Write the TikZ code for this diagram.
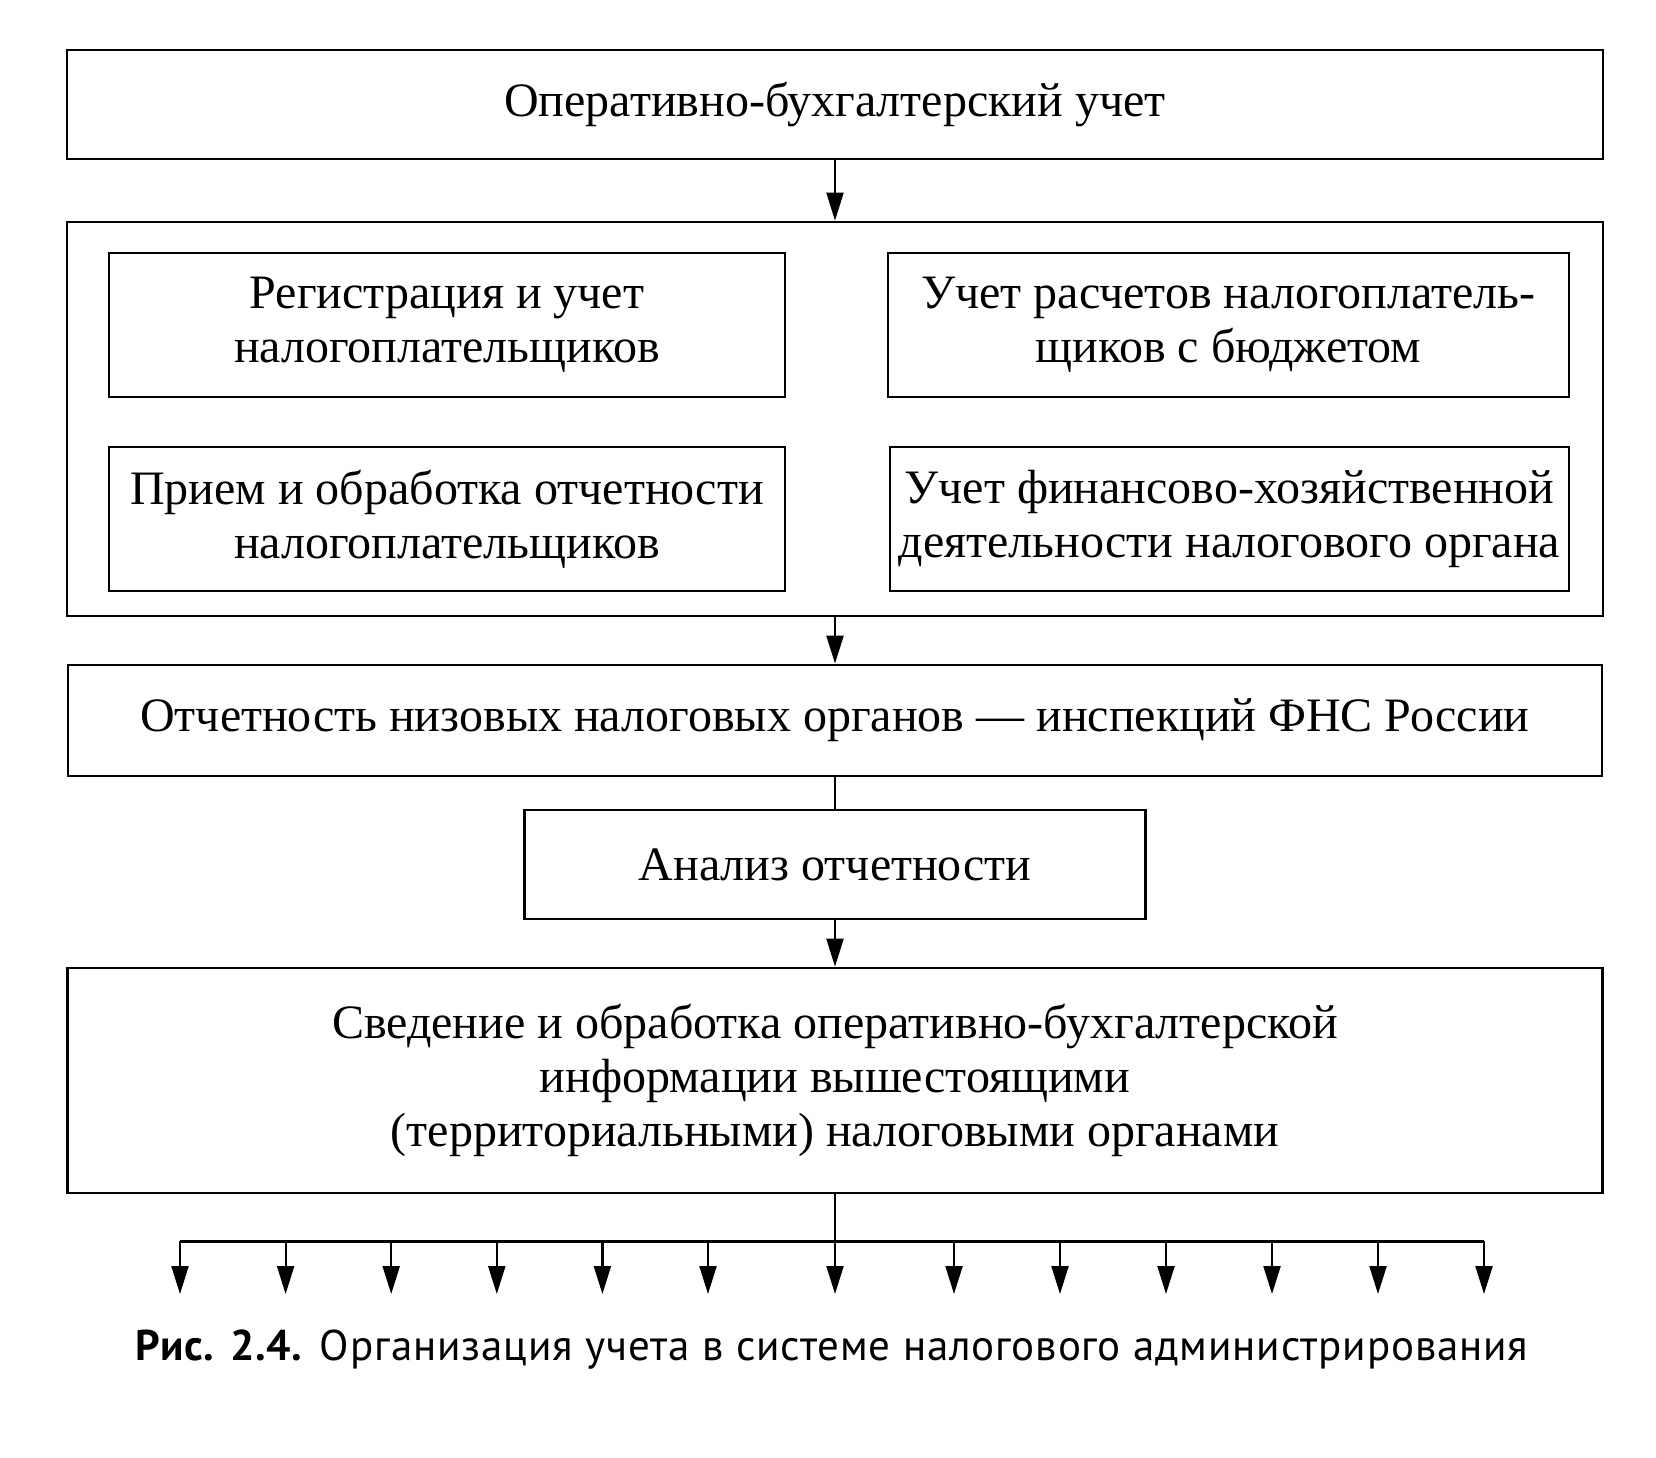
\documentclass[tikz,border=0pt]{standalone}
\usepackage{fontspec}
\setmainfont{Liberation Serif}
\newfontfamily\capfont[LetterSpace=2]{PT Sans}
\usetikzlibrary{arrows.meta}
\begin{document}
\begin{tikzpicture}[x=1pt,y=-1pt,
  box/.style={draw, line width=2.8pt, inner sep=0pt, align=center, font=\fontsize{48}{54}\selectfont},
  conn/.style={line width=2.2pt},
  busline/.style={line width=3pt},
  arr/.style={line width=2.2pt, -{Triangle[length=28pt,width=17pt]}},
]
\useasboundingbox (0,0) rectangle (1656,1458);
\fill[white] (0,0) rectangle (1656,1458);

\node[box, minimum width=1536pt, minimum height=109pt] (top) at (835,104.5) {Оперативно-бухгалтерский учет};
\node[box, minimum width=1536pt, minimum height=394pt] (cont) at (835,419) {};
\node[box, minimum width=676pt, minimum height=144pt] (lt) at (447,325) {Регистрация и учет\\налогоплательщиков};
\node[box, minimum width=681pt, minimum height=144pt] (rt) at (1228.5,325) {Учет расчетов налогоплатель-\\щиков с бюджетом};
\node[box, minimum width=676pt, minimum height=144pt] (lb) at (447,519) {Прием и обработка отчетности\\налогоплательщиков};
\node[box, minimum width=679pt, minimum height=144pt] (rb) at (1229.5,519) {Учет финансово-хозяйственной\\деятельности налогового органа};
\node[box, minimum width=1534pt, minimum height=111pt] (rep) at (835,720.5) {Отчетность низовых налоговых органов — инспекций ФНС России};
\node[box, minimum width=621pt, minimum height=109pt] (ana) at (835,864.5) {Анализ отчетности};
\node[box, minimum width=1535pt, minimum height=225pt] (sum) at (835,1080.5) {Сведение и обработка оперативно-бухгалтерской\\информации вышестоящими\\(территориальными) налоговыми органами};

\draw[arr] (top.south) -- (cont.north);
\draw[arr] (cont.south) -- (rep.north);
\draw[conn] (rep.south) -- (ana.north);
\draw[arr] (ana.south) -- (sum.north);

\foreach \i/\x in {1/180,2/285.6,3/391.2,4/496.8,5/602.4,6/708,7/835,8/954,9/1060,10/1166,11/1272,12/1378,13/1484} {
  \coordinate (b\i) at (\x,1241);
  \coordinate (t\i) at (\x,1294);
}
\draw[conn] (sum.south) -- (b7);
\draw[busline] (b1) -- (b13);
\foreach \i in {1,...,13} \draw[arr] (b\i) -- (t\i);

\node[font=\capfont\fontsize{43}{48}\selectfont, inner sep=0pt] (cap) at (832,1350) {\textbf{Рис. 2.4.} Организация учета в системе налогового администрирования};
\end{tikzpicture}
\end{document}
